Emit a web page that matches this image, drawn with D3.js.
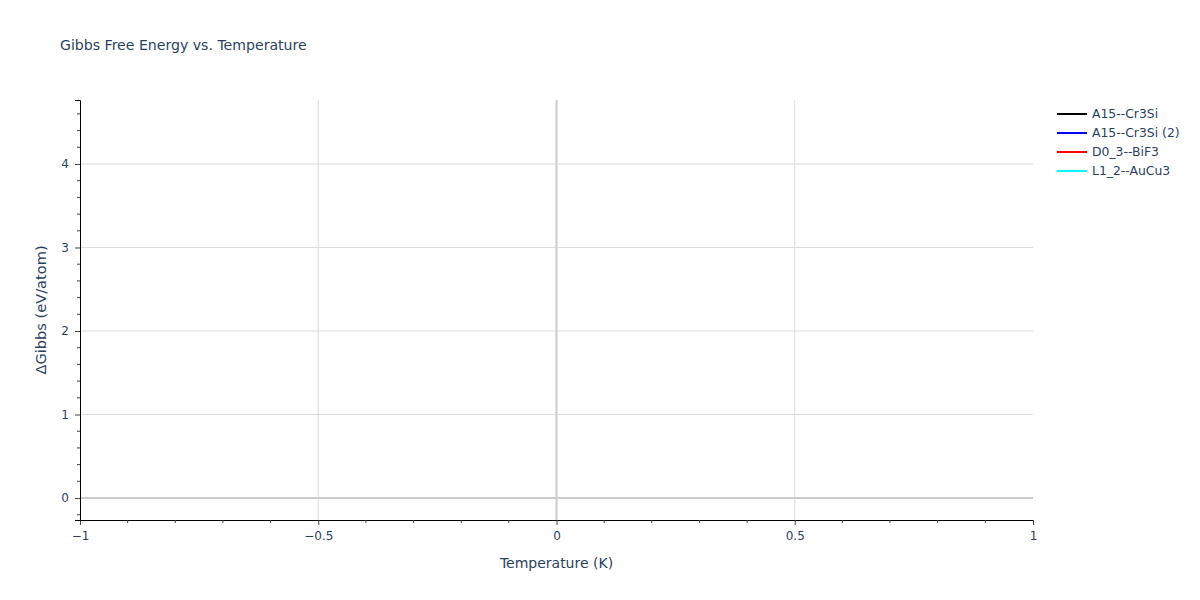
<!DOCTYPE html>
<html>
<head>
<meta charset="utf-8">
<script src="https://cdn.jsdelivr.net/npm/d3@7"></script>
<style>
body{margin:0;background:#fff;}
text{font-family:"DejaVu Sans",Verdana,sans-serif;}
</style>
</head>
<body>
<svg id="chart" width="1200" height="600"></svg>
<script>
const title = "Gibbs Free Energy vs. Temperature";
const xLabel = "Temperature (K)";
const yLabel = "ΔGibbs (eV/atom)";
const seriesNames = ["A15--Cr3Si", "A15--Cr3Si (2)", "D0_3--BiF3", "L1_2--AuCu3"];
const seriesColors = ["black", "blue", "red", "cyan"];
// each series holds a single (T, G) point at T = 0, so no line segment is visible
const seriesT = [[0], [0], [0], [0]];
const seriesG = [[0], [0], [0], [0]];
const xDomain = [-1, 1];
const yDomain = [-0.263, 4.766];
const xMajorTicks = [-1, -0.5, 0, 0.5, 1];
const xMinorTicks = [-0.9,-0.8,-0.7,-0.6,-0.4,-0.3,-0.2,-0.1,0.1,0.2,0.3,0.4,0.6,0.7,0.8,0.9];
const yMajorTicks = [0, 1, 2, 3, 4];
const yMinorTicks = [-0.2,0.2,0.4,0.6,0.8,1.2,1.4,1.6,1.8,2.2,2.4,2.6,2.8,3.2,3.4,3.6,3.8,4.2,4.4,4.6];

const svg = d3.select("#chart");
const L = 80, R = 1033, T = 100, B = 520;
const x = d3.scaleLinear().domain(xDomain).range([L, R]);
const y = d3.scaleLinear().domain(yDomain).range([B, T]);
const fmt = v => (v < 0 ? "\u2212" + Math.abs(v) : String(v));
const txtColor = "#2a3f5f";
const FONT = '"DejaVu Sans",Verdana,sans-serif';

// grid
const g = svg.append("g");
g.selectAll(".gx").data(xMajorTicks.filter(v => v !== 0 && v !== xDomain[0] && v !== xDomain[1]))
  .join("line").attr("x1", d => x(d)).attr("x2", d => x(d)).attr("y1", T).attr("y2", B)
  .attr("stroke", "#dcdcdc").attr("stroke-width", 1);
g.selectAll(".gy").data(yMajorTicks.filter(v => v !== 0))
  .join("line").attr("x1", L).attr("x2", R).attr("y1", d => y(d)).attr("y2", d => y(d))
  .attr("stroke", "#dcdcdc").attr("stroke-width", 1);
// zero lines
g.append("line").attr("x1", x(0)).attr("x2", x(0)).attr("y1", T).attr("y2", B)
  .attr("stroke", "#cccccc").attr("stroke-width", 2);
g.append("line").attr("x1", L).attr("x2", R).attr("y1", y(0)).attr("y2", y(0))
  .attr("stroke", "#cccccc").attr("stroke-width", 2);

// series lines
const line = d3.line().x(d => x(d[0])).y(d => y(d[1]));
seriesNames.forEach((n, i) => {
  const pts = seriesT[i].map((t, j) => [t, seriesG[i][j]]);
  svg.append("path").attr("d", line(pts)).attr("fill", "none")
    .attr("stroke", seriesColors[i]).attr("stroke-width", 2);
});

// axes
const xAxis = d3.axisBottom(x).tickValues(xMajorTicks).tickFormat(fmt).tickSize(5).tickPadding(6);
const xa = svg.append("g").attr("transform", `translate(0,${B})`).call(xAxis);
const yAxis = d3.axisLeft(y).tickValues(yMajorTicks).tickFormat(fmt).tickSize(5).tickPadding(6);
const ya = svg.append("g").attr("transform", `translate(${L},0)`).call(yAxis);
[xa, ya].forEach(a => {
  a.select(".domain").attr("stroke", "#000").attr("stroke-width", 1);
  a.selectAll(".tick line").attr("stroke", "#444");
  a.selectAll(".tick text").attr("fill", txtColor).attr("font-size", 12)
    .style("font-family", FONT);
});
// minor ticks
svg.append("g").selectAll("line").data(xMinorTicks).join("line")
  .attr("x1", d => x(d)).attr("x2", d => x(d)).attr("y1", B).attr("y2", B + 3)
  .attr("stroke", "#444");
svg.append("g").selectAll("line").data(yMinorTicks).join("line")
  .attr("x1", L - 3).attr("x2", L).attr("y1", d => y(d)).attr("y2", d => y(d))
  .attr("stroke", "#444");

// titles
svg.append("text").attr("x", 60).attr("y", 50).attr("fill", txtColor)
  .attr("font-size", 14.1).text(title);
svg.append("text").attr("x", (L + R) / 2).attr("y", 568).attr("text-anchor", "middle")
  .attr("fill", txtColor).attr("font-size", 14).text(xLabel);
svg.append("text").attr("transform", `translate(46,${(T + B) / 2}) rotate(-90)`)
  .attr("text-anchor", "middle").attr("fill", txtColor).attr("font-size", 14.6).text(yLabel);

// legend
const lg = svg.append("g").attr("transform", "translate(1057,114)");
seriesNames.forEach((n, i) => {
  const row = lg.append("g").attr("transform", `translate(0,${i * 19})`);
  row.append("line").attr("x1", 0).attr("x2", 30).attr("y1", 0).attr("y2", 0)
    .attr("stroke", seriesColors[i]).attr("stroke-width", 2);
  row.append("text").attr("x", 35).attr("y", 4).attr("fill", txtColor)
    .attr("font-size", 12.4).text(n);
});
</script>
</body>
</html>
